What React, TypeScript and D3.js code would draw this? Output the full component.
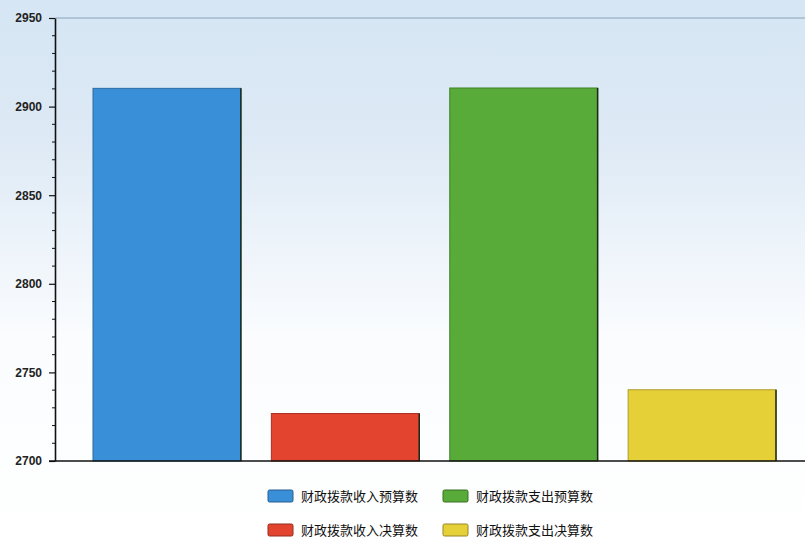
import React, { useEffect, useRef } from "react";
import * as d3 from "d3";

// values
const categories = ["财政拨款收入预算数", "财政拨款收入决算数", "财政拨款支出预算数", "财政拨款支出决算数"];
const values = [2910.3, 2726.8, 2910.5, 2740.2];
const colors = ["#3a8fd9", "#e2442f", "#58ab38", "#e6d038"];
const yTicks = [2700, 2750, 2800, 2850, 2900, 2950];

const W = 805;
const H = 540;
const m = { top: 18, left: 55, bottom: 79 };

const App = () => {
  const svgRef = useRef<SVGSVGElement | null>(null);

  useEffect(() => {
    d3.select(svgRef.current).selectAll("*").remove();
    const svg = d3.select(svgRef.current);

    // background gradient
    const defs = svg.append("defs");
    const bg = defs.append("linearGradient")
      .attr("id", "bg")
      .attr("x1", 0).attr("y1", 0).attr("x2", 0).attr("y2", 1);
    bg.append("stop").attr("offset", "0%").attr("stop-color", "#d6e6f4");
    bg.append("stop").attr("offset", "25%").attr("stop-color", "#dde9f5");
    bg.append("stop").attr("offset", "62%").attr("stop-color", "#fafcfe");
    bg.append("stop").attr("offset", "100%").attr("stop-color", "#ffffff");
    svg.append("rect").attr("width", W).attr("height", H).attr("fill", "url(#bg)");

    const y = d3.scaleLinear().domain([2700, 2950]).range([H - m.bottom, m.top]);
    const x = d3.scaleBand<string>()
      .domain(categories)
      .range([m.left, 814])
      .paddingInner(0.171)
      .paddingOuter(0.213);

    // top grid line at max
    svg.append("line")
      .attr("x1", m.left).attr("x2", W)
      .attr("y1", y(2950)).attr("y2", y(2950))
      .attr("stroke", "#86a3bc").attr("stroke-width", 1);

    // bars
    svg.selectAll(".bar")
      .data(values)
      .enter()
      .append("rect")
      .attr("class", "bar")
      .attr("x", (d, i) => x(categories[i])!)
      .attr("y", (d) => y(d))
      .attr("width", x.bandwidth())
      .attr("height", (d) => y(2700) - y(d))
      .attr("fill", (d, i) => colors[i])
      .attr("stroke", (d, i) => d3.color(colors[i])!.darker(0.8).toString())
      .attr("stroke-width", 1);

    // dark right edge on each bar
    svg.selectAll(".edge")
      .data(values)
      .enter()
      .append("line")
      .attr("x1", (d, i) => x(categories[i])! + x.bandwidth())
      .attr("x2", (d, i) => x(categories[i])! + x.bandwidth())
      .attr("y1", (d) => y(d))
      .attr("y2", y(2700))
      .attr("stroke", "#1a2a1a")
      .attr("stroke-width", 1.5);

    // y axis with minor ticks
    const minor = d3.range(2700, 2951, 10).filter((v) => v % 50 !== 0);
    svg.append("g")
      .selectAll("line")
      .data(minor)
      .enter()
      .append("line")
      .attr("x1", m.left - 3).attr("x2", m.left)
      .attr("y1", (d) => y(d)).attr("y2", (d) => y(d))
      .attr("stroke", "#111");

    const yAxis = svg.append("g")
      .attr("transform", `translate(${m.left},0)`)
      .call(d3.axisLeft(y).tickValues(yTicks).tickSize(6).tickSizeOuter(0).tickFormat(d3.format("d")));
    yAxis.select(".domain").attr("stroke", "#111").attr("stroke-width", 1.6);
    yAxis.selectAll(".tick line").attr("stroke", "#111").attr("stroke-width", 1.2);
    yAxis.selectAll("text")
      .attr("x", -13)
      .style("font-size", "12px")
      .style("font-weight", "bold")
      .style("font-family", "'Liberation Sans', Arial, sans-serif")
      .style("fill", "#222");

    // x baseline
    svg.append("line")
      .attr("x1", m.left - 6).attr("x2", W)
      .attr("y1", y(2700)).attr("y2", y(2700))
      .attr("stroke", "#111").attr("stroke-width", 1.6);

    // legend, 2 columns x 2 rows
    const legendOrder = [0, 2, 1, 3];
    const legend = svg.append("g");
    legendOrder.forEach((idx, k) => {
      const col = k % 2;
      const row = Math.floor(k / 2);
      const g = legend.append("g")
        .attr("transform", `translate(${268 + col * 175},${496 + row * 34})`);
      g.append("rect")
        .attr("x", 0).attr("y", -6)
        .attr("width", 25).attr("height", 12)
        .attr("rx", 1.5)
        .attr("fill", colors[idx])
        .attr("stroke", d3.color(colors[idx])!.darker(1.2).toString());
      g.append("text")
        .attr("x", 33).attr("y", 0)
        .attr("dy", "0.36em")
        .style("font-size", "13px")
        .style("font-family", "'Noto Sans CJK SC', sans-serif")
        .style("fill", "#111")
        .text(categories[idx]);
    });
  }, []);

  return (
    <svg
      ref={svgRef}
      width={W}
      height={H}
      style={{ position: "absolute", left: 0, top: 0 }}
    ></svg>
  );
};

export default App;
